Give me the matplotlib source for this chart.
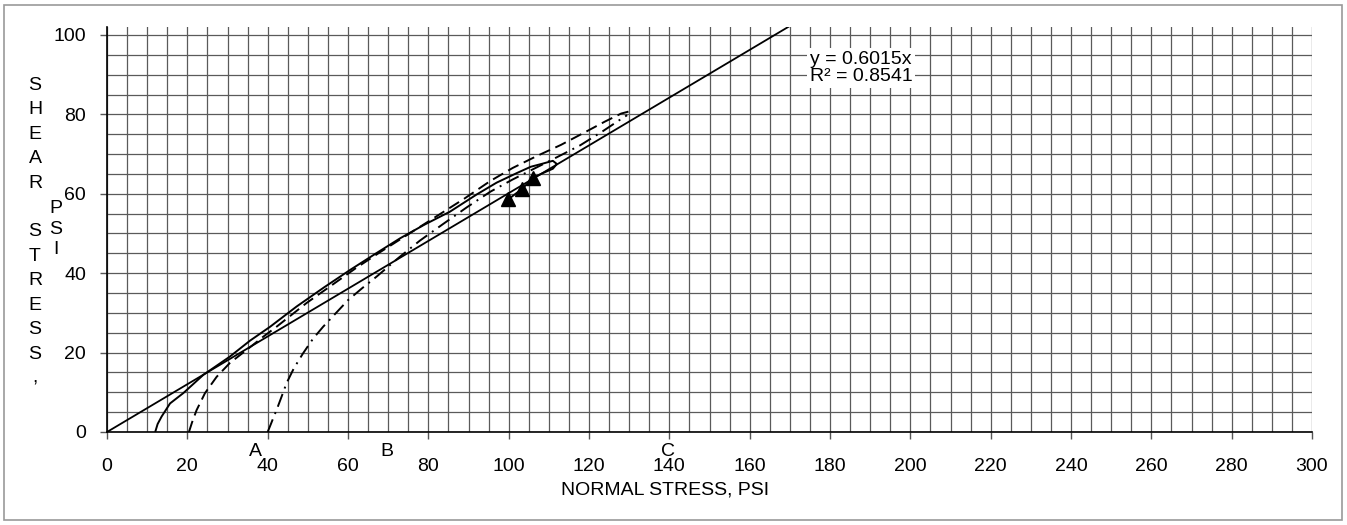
import numpy as np
import matplotlib
matplotlib.use("Agg")
import matplotlib.pyplot as plt
from matplotlib.patches import Rectangle

plt.rcParams['font.family'] = ['Liberation Sans', 'DejaVu Sans']

# stress path A (solid)
a_x = [12, 12.6, 13.6, 15.7, 19, 24, 30.6, 35.6, 40.6, 47.2, 54, 60.5, 67, 73, 79, 85.4,
       92, 97, 102, 105.5, 108.5, 111, 112, 111, 108.5, 106]
a_y = [0, 2, 3.9, 7.2, 9.8, 14.4, 19, 23, 26.5, 31.6, 36.4, 40.8, 45, 48.8, 52.2, 55.5,
       59.8, 62.8, 65.2, 66.8, 67.6, 68.3, 67.5, 66.3, 65.2, 64]

# stress path B (dashed)
b_x = [20.4, 21.2, 22.3, 24.4, 27.3, 30.6, 34.8, 38.9, 42.2, 49.7, 56, 62, 68, 75, 82, 89,
       95.4, 101, 107, 113, 119, 124, 128, 131]
b_y = [0, 2.5, 5.5, 9.8, 13.9, 17.4, 20.7, 24, 26.5, 32.5, 37, 41.3, 45.3, 49.8, 54.3, 58.8,
       63.2, 66.5, 69.5, 72.3, 75.5, 78.2, 80.2, 81]

# stress path C (dash-dot)
c_x = [40, 40.8, 41.5, 42.2, 43.5, 44.7, 46.5, 48.8, 51.3, 53.8, 56.3, 60, 63.5, 67.2, 72.5,
       77.9, 83.7, 89.6, 95.4, 101, 106.5, 112, 117.8, 123.5, 127.5, 129.5]
c_y = [0, 2, 3.8, 5.5, 9, 12.3, 16, 19.8, 23.5, 26.5, 29.2, 33.2, 36.2, 39.2, 43.8,
       48.2, 52.4, 56.6, 60.5, 63.6, 66.4, 69.2, 72.2, 75.8, 78.5, 79.8]

# failure points
fail_x = [99.9, 103.3, 106.1]
fail_y = [58.6, 61.2, 64.0]

slope = 0.6015
trend_x = [0, 170]

fig = plt.figure(figsize=(13.47, 5.25), dpi=100)
ax = fig.add_axes([107/1347, 1-432/525, (1312-107)/1347, (432-27)/525])

ax.set_xlim(0, 300)
ax.set_ylim(0, 102)
ax.set_xticks(np.arange(0, 301, 20))
ax.set_yticks(np.arange(0, 101, 20))
ax.set_xticks(np.arange(0, 301, 5), minor=True)
ax.set_yticks(np.arange(0, 101, 5), minor=True)
ax.grid(which='both', color='#5a5a5a', lw=0.9)
ax.set_axisbelow(True)
for s in ['top', 'right']:
    ax.spines[s].set_visible(False)
ax.spines['left'].set_linewidth(1.2)
ax.spines['bottom'].set_linewidth(1.2)
ax.tick_params(which='major', length=5, width=1, direction='out', labelsize=14, color='#555555')
ax.tick_params(axis='x', pad=14)
ax.tick_params(axis='y', pad=10)
ax.tick_params(which='minor', length=0)

ax.plot(trend_x, [slope*v for v in trend_x], color='black', lw=1.3)
ax.plot(a_x, a_y, color='black', lw=1.4, solid_capstyle='butt')
ax.plot(b_x, b_y, color='black', lw=1.4, dashes=(6, 3))
ax.plot(c_x, c_y, color='black', lw=1.4, dashes=(7, 3, 1, 3))
ax.plot(fail_x, fail_y, color='black', lw=1.4)
ax.plot(fail_x, fail_y, '^', color='black', ms=10, clip_on=False)

ax.text(175, 96.0, 'y = 0.6015x\nR² = 0.8541', fontsize=14, va='top', ha='left',
        linespacing=1.0, bbox=dict(facecolor='white', edgecolor='none', pad=2))

for lab, lx in zip(['A', 'B', 'C'], [37, 69.6, 139.6]):
    ax.text(lx, -5, lab, fontsize=14, ha='center', va='center', clip_on=False)

fig.text(665/1347, 1-490/525, 'NORMAL STRESS, PSI', fontsize=14, ha='center', va='center')
fig.text(35/1347, 1-232/525, '\n'.join('SHEAR STRESS,').replace('\n \n', '\n\n'),
         fontsize=14, ha='center', va='center', linespacing=1.57)
fig.text(56/1347, 1-229/525, 'P\nS\nI', fontsize=14, ha='center', va='center', linespacing=1.3)

fig.patches.append(Rectangle((4/1347, 5/525), 1338/1347, 515/525, transform=fig.transFigure,
                             fill=False, edgecolor='#999999', lw=1.2))

fig.savefig('out.png', dpi=100)
